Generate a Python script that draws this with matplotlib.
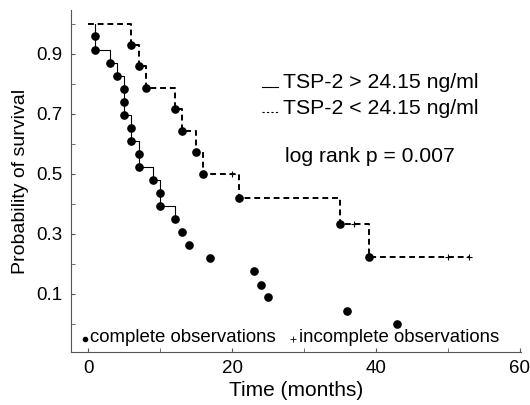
import numpy as np
import matplotlib
matplotlib.use("Agg")
import matplotlib.pyplot as plt

plt.rcParams['font.family'] = ['Liberation Sans', 'DejaVu Sans']

# group TSP-2 > 24.15 ng/ml (solid): one dot per death
high_times = [1, 1, 3, 4, 5, 5, 5, 6, 6, 7, 7, 9, 10, 10, 12, 13, 14, 17, 23, 24, 25, 36, 43]
high_surv = [0.957, 0.913, 0.870, 0.826, 0.783, 0.739, 0.696, 0.652, 0.609, 0.565, 0.522,
             0.478, 0.435, 0.391, 0.348, 0.304, 0.261, 0.217, 0.174, 0.130, 0.087, 0.043, 0.0]
# the solid step line only runs up to 12 months in the original
high_step_t = [1, 1, 3, 4, 5, 6, 7, 9, 10, 12]
high_step_s = [1.0, 0.913, 0.870, 0.826, 0.696, 0.609, 0.522, 0.478, 0.391, 0.348]

# group TSP-2 < 24.15 ng/ml (dashed)
low_step_t = [0, 6, 7, 8, 12, 13, 15, 16, 21, 35, 39, 53]
low_step_s = [1.0, 0.929, 0.857, 0.786, 0.714, 0.643, 0.571, 0.5, 0.417, 0.333, 0.222, 0.222]
low_death_t = [6, 7, 8, 12, 13, 15, 16, 21, 35, 39]
low_death_s = [0.929, 0.857, 0.786, 0.714, 0.643, 0.571, 0.5, 0.417, 0.333, 0.222]
low_cens_t = [20, 37, 50, 53]
low_cens_s = [0.5, 0.333, 0.222, 0.222]

fig = plt.figure(figsize=(5.3, 4.05), dpi=100)
ax = fig.add_axes([71 / 530, 53 / 405, 450 / 530, 342 / 405])

ax.step(low_step_t, low_step_s, where='post', color='black', lw=1.4, dashes=[3, 2])
ax.step(high_step_t, high_step_s, where='post', color='black', lw=0.8)
ax.plot(high_times, high_surv, 'o', color='black', ms=5.2, clip_on=False)
ax.plot(low_death_t, low_death_s, 'o', color='black', ms=5.2)
ax.plot(low_cens_t, low_cens_s, '+', color='black', ms=5, mew=0.8)

ax.set_xlim(-2.4, 60.2)
ax.set_ylim(-0.095, 1.045)
ax.set_xticks([0, 20, 40, 60])
ax.set_xticks([10, 30, 50], minor=True)
ax.set_yticks([0.1, 0.3, 0.5, 0.7, 0.9])
ax.set_yticks([0.0, 0.2, 0.4, 0.6, 0.8, 1.0], minor=True)
ax.set_yticklabels(['0.1', '0.3', '0.5', '0.7', '0.9'])
ax.tick_params(which='both', direction='in', length=3, color='#555555', labelsize=13.5, pad=6)
for side in ['top', 'right']:
    ax.spines[side].set_visible(False)
for side in ['left', 'bottom']:
    ax.spines[side].set_color('#555555')
    ax.spines[side].set_linewidth(0.8)

ax.set_xlabel('Time (months)', fontsize=15, labelpad=3)
ax.set_ylabel('Probability of survival', fontsize=14, labelpad=5)


def fx(px):
    return (px - 71) / 450


def fy(py):
    return (352 - py) / 342


# legend for the two curves
ax.plot([fx(262), fx(278)], [fy(87), fy(87)], color='black', lw=0.8, transform=ax.transAxes, clip_on=False)
ax.plot([fx(262), fx(278)], [fy(112), fy(112)], color='black', lw=0.8, dashes=[2, 2],
        transform=ax.transAxes, clip_on=False)
ax.text(fx(283), fy(83), 'TSP-2 > 24.15 ng/ml', fontsize=15.3, va='center', transform=ax.transAxes)
ax.text(fx(283), fy(108), 'TSP-2 < 24.15 ng/ml', fontsize=15.3, va='center', transform=ax.transAxes)
ax.text(fx(285), fy(157), 'log rank p = 0.007', fontsize=15.2, va='center', transform=ax.transAxes)

# bottom key for markers
ax.plot([fx(85)], [fy(339)], 'o', color='black', ms=3, transform=ax.transAxes, clip_on=False)
ax.text(fx(90), fy(338), 'complete observations', fontsize=13.4, va='center', transform=ax.transAxes)
ax.plot([fx(293)], [fy(339)], '+', color='black', ms=4, mew=0.6, transform=ax.transAxes, clip_on=False)
ax.text(fx(299), fy(338), 'incomplete observations', fontsize=13.4, va='center', transform=ax.transAxes)

fig.savefig('out.png', dpi=100)
